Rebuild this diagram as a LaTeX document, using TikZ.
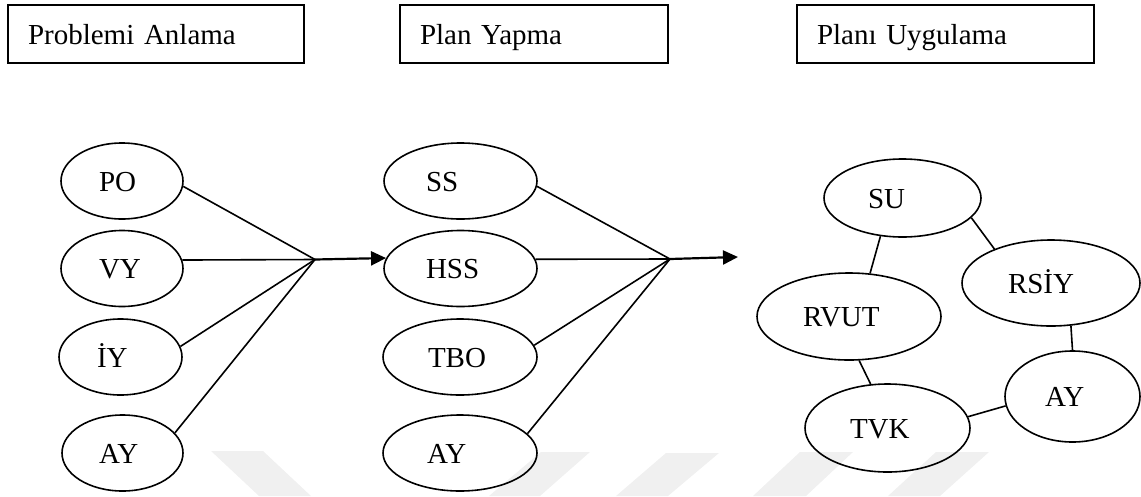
\documentclass[tikz,border=0pt]{standalone}
\usepackage{fontspec}
\setmainfont{Liberation Serif}
\usetikzlibrary{shapes.geometric,arrows.meta}
\begin{document}
\begin{tikzpicture}[x=1pt,y=-1pt,
  every node/.style={font=\fontsize{29}{34}\selectfont},
  stage/.style={draw, rectangle, line width=2.6pt, minimum height=58pt,
    align=left, text height=20pt, text depth=0pt, inner sep=0pt},
  bubble/.style={draw, ellipse, line width=1.6pt, align=left,
    text height=20pt, text depth=0pt, inner sep=1pt},
  link/.style={line width=1.6pt},
  flow/.style={line width=2.2pt, -{Triangle[length=15pt,width=14pt]}},
  wmark/.style={fill=black!6, draw=none}
]
\useasboundingbox (0,0) rectangle (1141,496);

% faint background stripes along the bottom edge
\fill[wmark] (211,451) -- (263,451) -- (311,496) -- (259,496) -- cycle;
\fill[wmark] (541,452) -- (590,452) -- (540,496) -- (489,496) -- cycle;
\fill[wmark] (666,453) -- (719,453) -- (668,496) -- (616,496) -- cycle;
\fill[wmark] (800,452) -- (853,452) -- (806,496) -- (753,496) -- cycle;
\fill[wmark] (936,452) -- (989,452) -- (940,496) -- (888,496) -- cycle;

% stage headings
\node[stage, minimum width=296pt, text width=256pt] (s1) at (156,34) {Problemi Anlama};
\node[stage, minimum width=268pt, text width=228pt] (s2) at (534,34) {Plan Yapma};
\node[stage, minimum width=297pt, text width=257pt] (s3) at (945.5,34) {Planı Uygulama};

% understanding the problem
\node[bubble, minimum width=122pt, minimum height=76pt, text width=46pt] (po) at (122,181) {PO};
\node[bubble, minimum width=122pt, minimum height=76pt, text width=46pt] (vy) at (122,268.5) {VY};
\node[bubble, minimum width=123pt, minimum height=76pt, text width=47pt] (iy) at (120.5,357) {İY};
\node[bubble, minimum width=121pt, minimum height=76pt, text width=47pt] (ay1) at (122.5,453) {AY};

% devising a plan
\node[bubble, minimum width=153pt, minimum height=76pt, text width=69pt] (ss) at (460.5,181) {SS};
\node[bubble, minimum width=153pt, minimum height=76pt, text width=69pt] (hss) at (460.5,268.5) {HSS};
\node[bubble, minimum width=154pt, minimum height=76pt, text width=64pt] (tbo) at (460,357) {TBO};
\node[bubble, minimum width=154pt, minimum height=76pt, text width=66pt] (ay2) at (460,453) {AY};

% carrying out the plan
\node[bubble, minimum width=157pt, minimum height=78pt, text width=69pt] (su) at (902.5,198) {SU};
\node[bubble, minimum width=178pt, minimum height=86pt, text width=86pt] (rsiy) at (1051,283) {RSİY};
\node[bubble, minimum width=184pt, minimum height=87pt, text width=92pt] (rvut) at (849,316.5) {RVUT};
\node[bubble, minimum width=135pt, minimum height=91pt, text width=55pt] (ay3) at (1072.5,396.5) {AY};
\node[bubble, minimum width=165pt, minimum height=88pt, text width=75pt] (tvk) at (887.5,428) {TVK};

% meeting points of the fans and the free arrow end
\coordinate (c1) at (315,259.5);
\coordinate (c2) at (670,259);
\coordinate (e2) at (738,257);

\draw[link] (po.355) -- (c1);
\draw[link] (vy.8) -- (c1);
\draw[link] (iy.10) -- (c1);
\draw[link] (ay1.21) -- (c1);
\draw[flow] (c1) -- (hss.172);

\draw[link] (ss.356) -- (c2);
\draw[link] (hss.7) -- (c2);
\draw[link] (tbo.9) -- (c2);
\draw[link] (ay2.16) -- (c2);
\draw[flow] (c2) -- (e2);

\draw[link] (su.240) -- (rvut.64);
\draw[link] (su.344) -- (rsiy.149);
\draw[link] (rsiy.295) -- (ay3.90);
\draw[link] (rvut.283) -- (tvk.111);
\draw[link] (tvk.8) -- (ay3.188);
\end{tikzpicture}
\end{document}
